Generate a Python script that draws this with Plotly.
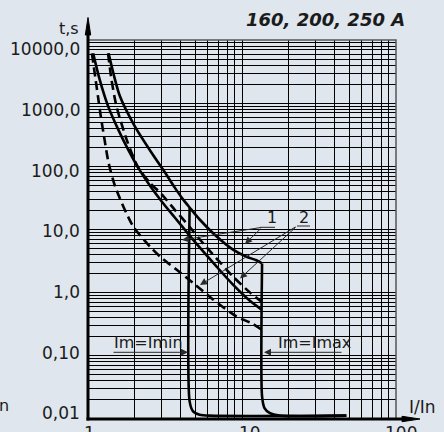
import plotly.graph_objects as go
import math

# ---------------- data ----------------
# curve group 1 (solid): lower and upper boundary, I/In vs t,s
curve1_lo_x = [1.08, 1.19, 1.35, 1.57, 1.82, 2.13, 2.52, 3.01, 3.66, 4.57, 5.31, 6.82, 8.74, 11.2, 13.4]
curve1_lo_t = [6150, 2380, 899, 384, 185, 92.7, 49.8, 27.8, 15.5, 8.0, 5.2, 2.6, 1.34, 0.75, 0.54]
curve1_hi_x = [1.36, 1.61, 2.01, 2.58, 3.07, 3.66, 4.14, 4.57, 5.31, 6.82, 8.74, 10.7, 12.4, 13.5]
curve1_hi_t = [6150, 1295, 434, 166, 89, 46, 30, 22.3, 14.4, 7.8, 4.8, 3.7, 3.26, 2.9]
# curve group 2 (dashed)
curve2_lo_x = [1.06, 1.16, 1.21, 1.28, 1.36, 1.51, 1.96, 2.52, 3.0, 3.75, 4.81, 6.48, 9.2, 11.5, 13.4]
curve2_lo_t = [6150, 1295, 625, 267, 114, 46, 11.3, 5.4, 3.56, 2.32, 1.43, 0.78, 0.42, 0.33, 0.26]
curve2_hi_x = [1.35, 1.42, 1.53, 1.78, 2.11, 2.52, 3.01, 3.66, 4.57, 5.31, 6.82, 8.74, 11.2, 13.4]
curve2_hi_t = [6150, 2380, 899, 267, 97, 55, 36, 20.5, 11.0, 7.0, 3.5, 1.8, 1.02, 0.72]
# instantaneous trips
imin_x = [4.57, 4.57, 4.81, 5.31, 6.17, 47.6]
imin_t = [22.3, 0.019, 0.0132, 0.0117, 0.0113, 0.0113]
imax_x = [13.5, 13.5, 14.0, 15.1, 17.6, 47.6]
imax_t = [2.9, 0.0228, 0.0149, 0.0125, 0.0113, 0.0113]

x_tick_vals = [1, 10, 100]
x_tick_text = ["1", "10", "100"]
y_tick_vals = [10000, 1000, 100, 10, 1, 0.1, 0.01]
y_tick_text = ["10000,0", "1000,0", "100,0", "10,0", "1,0", "0,10", "0,01"]

title_text = "<b><i>160, 200, 250 A</i></b>"
# ------------------------------------------------------------

W, H = 444, 432
ML, MR, MT, MB = 88, 48, 40, 13
PW, PH = W - ML - MR, H - MT - MB
FONT = "DejaVu Sans"
INK = "#1b1b1b"
BG = "#dfe6ed"


def pxx(x):
    return (x - ML) / PW


def pyy(y):
    return (H - MB - y) / PH


fig = go.Figure()

solid = dict(color="black", width=2.6)
dashed = dict(color="black", width=2.6, dash="9px,5px")

for xs, ts, ln, shp in [
    (curve1_lo_x, curve1_lo_t, solid, "spline"),
    (curve1_hi_x, curve1_hi_t, solid, "spline"),
    (curve2_lo_x, curve2_lo_t, dashed, "spline"),
    (curve2_hi_x, curve2_hi_t, dashed, "spline"),
    (imin_x, imin_t, solid, "spline"),
    (imax_x, imax_t, solid, "spline"),
]:
    fig.add_trace(go.Scatter(x=xs, y=ts, mode="lines", line=dict(**ln, shape=shp, smoothing=0.7),
                             hoverinfo="skip", showlegend=False))

xgrid = [k * 10 ** e for e in range(0, 2) for k in range(1, 10)] + [100]
ygrid = [k * 10 ** e for e in range(-2, 4) for k in range(1, 10)] + [10000]

fig.update_xaxes(type="log", range=[0, 2], tickvals=xgrid, showticklabels=False, ticks="",
                 showgrid=True, gridcolor="black", gridwidth=1, zeroline=False, showline=False)
fig.update_yaxes(type="log", range=[-2, 4], tickvals=ygrid, showticklabels=False, ticks="",
                 showgrid=True, gridcolor="black", gridwidth=1, zeroline=False, showline=False)

ann = []
# y tick labels (offset from grid lines as in the original)
y_shifts = [-8.6, -6.5, -4.4, -1.3, 0.8, 2.9, 6.0]
for v, t, s in zip(y_tick_vals, y_tick_text, y_shifts):
    ann.append(dict(x=pxx(82), xref="paper", y=math.log10(v), yref="y", text=t, showarrow=False,
                    xanchor="right", yanchor="middle", yshift=s, font=dict(family=FONT, size=17, color=INK)))
x_shifts = [1.7, 8, 5]
for v, t, s in zip(x_tick_vals, x_tick_text, x_shifts):
    ann.append(dict(x=math.log10(v), xref="x", y=0, yref="paper", text=t, showarrow=False,
                    xanchor="center", yanchor="top", xshift=s, yshift=-2,
                    font=dict(family=FONT, size=17, color=INK)))

def text(x, y, t, size=16, xa="center", ya="middle"):
    ann.append(dict(x=pxx(x), y=pyy(y), xref="paper", yref="paper", text=t, showarrow=False,
                    xanchor=xa, yanchor=ya, font=dict(family=FONT, size=size, color=INK)))

text(325.5, 20, title_text, 18)
text(68.5, 29, "t,s", 16)
text(422, 407, "I/In", 17)
text(271.7, 218, "1", 16)
text(304, 218, "2", 16)
text(112, 342.5, "Im=Imin", 16, xa="left")
text(276, 342, "Im=Imax", 16, xa="left")
text(-3, 405, "n", 16, xa="left")


def arrow(tip, tail, w=1):
    ann.append(dict(x=pxx(tip[0]), y=pyy(tip[1]), xref="paper", yref="paper", text="",
                    showarrow=True, ax=tail[0] - tip[0], ay=tail[1] - tip[1],
                    axref="pixel", ayref="pixel", arrowhead=2, arrowsize=1.4,
                    arrowwidth=w, arrowcolor="#2a2a2a"))

arrow((188, 352.3), (112, 352.3))
arrow((264, 352.3), (343, 352.3))
arrow((182, 240), (262, 227.3))
arrow((245, 244), (262, 227.3))
arrow((200, 285), (297, 226))
arrow((240, 278.5), (297, 226))

shapes = []
shapes.append(dict(type="rect", xref="paper", yref="paper", x0=0, x1=1, y0=0, y1=1,
                   line=dict(color="#555", width=1.5), layer="above"))
# underlines of the curve numbers
shapes.append(dict(type="line", xref="paper", yref="paper", x0=pxx(260), x1=pxx(275),
                   y0=pyy(227.3), y1=pyy(227.3), line=dict(color="#2a2a2a", width=1)))
shapes.append(dict(type="line", xref="paper", yref="paper", x0=pxx(297), x1=pxx(310),
                   y0=pyy(226), y1=pyy(226), line=dict(color="#2a2a2a", width=1)))
# thick axes with arrows
shapes.append(dict(type="line", xref="paper", yref="paper", x0=0, x1=0, y0=pyy(420.5), y1=pyy(32),
                   line=dict(color="black", width=3), layer="above"))
shapes.append(dict(type="line", xref="paper", yref="paper", x0=pxx(86.5), x1=pxx(406), y0=0, y1=0,
                   line=dict(color="black", width=3), layer="above"))
shapes.append(dict(type="path", xref="paper", yref="paper",
                   path=f"M {pxx(85.3)},{pyy(35)} L {pxx(88)},{pyy(17.5)} L {pxx(90.7)},{pyy(35)} Z",
                   fillcolor="black", line=dict(color="black", width=1), layer="above"))
shapes.append(dict(type="path", xref="paper", yref="paper",
                   path=f"M {pxx(402)},{pyy(416.3)} L {pxx(420)},{pyy(419)} L {pxx(402)},{pyy(421.7)} Z",
                   fillcolor="black", line=dict(color="black", width=1), layer="above"))

fig.update_layout(width=W, height=H, margin=dict(l=ML, r=MR, t=MT, b=MB),
                  paper_bgcolor=BG, plot_bgcolor=BG, annotations=ann, shapes=shapes,
                  showlegend=False, font=dict(family=FONT, color=INK))

fig.write_html("out.html", config={"displayModeBar": False, "staticPlot": True},
               post_script="document.body.style.margin='0px';document.body.style.overflow='hidden';"
                           "document.body.style.background='" + BG + "';")
